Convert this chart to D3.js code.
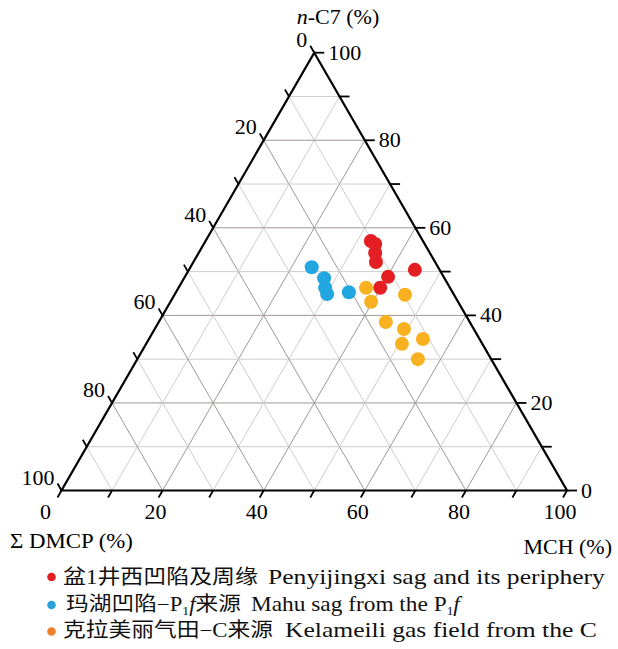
<!DOCTYPE html>
<html><head><meta charset="utf-8">
<script src="https://cdn.jsdelivr.net/npm/d3@7"></script>
<style>body{margin:0;background:#fff} svg{display:block;background:#fff}</style>
</head><body>
<svg id="chart" width="618" height="649"></svg>
<script>
// Ternary diagram: n-C7 (top), ΣDMCP (bottom-left), MCH (bottom-right), all in %
const tickValues = [0, 10, 20, 30, 40, 50, 60, 70, 80, 90, 100];
const majorLabels = ["0", "20", "40", "60", "80", "100"];

const penyiNC7  = [57.0, 56.3, 54.3, 52.2, 50.4, 48.8, 46.3];
const penyiDMCP = [10.3,  9.8, 10.8, 11.7,  4.9, 11.0, 13.8];
const penyiMCH  = [32.7, 33.9, 34.9, 36.1, 44.7, 40.2, 39.9];

const mahuNC7  = [51.0, 48.5, 46.3, 44.9, 45.3];
const mahuDMCP = [25.0, 23.8, 24.7, 25.0, 20.5];
const mahuMCH  = [24.0, 27.7, 29.0, 30.1, 34.2];

const kelaNC7  = [46.3, 43.1, 44.7, 38.5, 36.9, 34.6, 33.5, 30.0];
const kelaDMCP = [16.6, 17.2,  9.7, 16.6, 13.8, 11.2, 15.9, 14.5];
const kelaMCH  = [37.1, 39.7, 45.6, 44.9, 49.3, 54.2, 50.6, 55.5];

const series = [
  {name: "mahu",  nc7: mahuNC7,  dmcp: mahuDMCP,  mch: mahuMCH,  color: "#22a6e0"},
  {name: "kela",  nc7: kelaNC7,  dmcp: kelaDMCP,  mch: kelaMCH,  color: "#f9b11f"},
  {name: "penyi", nc7: penyiNC7, dmcp: penyiDMCP, mch: penyiMCH, color: "#e41f24"}
];

const svg = d3.select("#chart");
const serif = "'Liberation Serif', 'Times New Roman', serif";
const cjk = "'Noto Sans CJK SC', 'Liberation Serif', serif";

// horizontal position follows MCH + nC7/2, vertical follows nC7
const xScale = d3.scaleLinear().domain([0, 100]).range([61.5, 567]);
const yScale = d3.scaleLinear().domain([0, 100]).range([490.5, 52.7]);
function proj(nc7, dmcp, mch) {
  const s = nc7 + dmcp + mch;
  const c = nc7 / s * 100, m = mch / s * 100;
  return [xScale(m + c / 2), yScale(c)];
}
const TOP = proj(100, 0, 0), BL = proj(0, 100, 0), BR = proj(0, 0, 100);

// grid lines every 10 %
const grid = svg.append("g");
tickValues.filter(v => v > 0 && v < 100).forEach(v => {
  const col = v % 20 === 0 ? "#a09797" : "#d2cccc";
  const segs = [
    [proj(v, 100 - v, 0), proj(v, 0, 100 - v)],   // constant n-C7
    [proj(100 - v, v, 0), proj(0, v, 100 - v)],   // constant ΣDMCP
    [proj(100 - v, 0, v), proj(0, 100 - v, v)]    // constant MCH
  ];
  segs.forEach(([a, b]) => grid.append("line")
    .attr("x1", a[0]).attr("y1", a[1]).attr("x2", b[0]).attr("y2", b[1])
    .attr("stroke", col).attr("stroke-width", 1));
});

// triangle frame
svg.append("path")
  .attr("d", d3.line()([TOP, BR, BL, TOP]) + "Z")
  .attr("fill", "none").attr("stroke", "#000").attr("stroke-width", 2.2)
  .attr("stroke-linejoin", "miter");

const tickLen = 8;
const axes = svg.append("g").attr("font-family", serif).attr("font-size", 22).attr("fill", "#000");

// bottom axis: MCH 0 → 100 (left → right), ticks point down-left
tickValues.forEach(v => {
  const p = proj(0, 100 - v, v);
  axes.append("line").attr("x1", p[0]).attr("y1", p[1])
    .attr("x2", p[0] - 0.5 * tickLen).attr("y2", p[1] + 0.866 * tickLen)
    .attr("stroke", "#000").attr("stroke-width", 1.8);
  if (v % 20 === 0) {
    axes.append("text").attr("x", p[0] - (v === 0 ? 16 : 7)).attr("y", p[1] + 28)
      .attr("text-anchor", "middle").text(majorLabels[v / 20]);
  }
});

// left axis: ΣDMCP 0 (top) → 100 (bottom-left), ticks point up-left
tickValues.forEach(v => {
  const p = proj(100 - v, v, 0);
  axes.append("line").attr("x1", p[0]).attr("y1", p[1])
    .attr("x2", p[0] - 0.5 * tickLen).attr("y2", p[1] - 0.866 * tickLen)
    .attr("stroke", "#000").attr("stroke-width", 1.8);
  if (v % 20 === 0) {
    axes.append("text").attr("x", p[0] - 7).attr("y", p[1] - 6)
      .attr("text-anchor", "end").text(majorLabels[v / 20]);
  }
});

// right axis: n-C7 0 (bottom-right) → 100 (top), ticks point right
tickValues.forEach(v => {
  const p = proj(v, 0, 100 - v);
  axes.append("line").attr("x1", p[0]).attr("y1", p[1])
    .attr("x2", p[0] + tickLen + 2).attr("y2", p[1])
    .attr("stroke", "#000").attr("stroke-width", 1.8);
  if (v % 20 === 0) {
    axes.append("text").attr("x", p[0] + 14).attr("y", p[1] + 7)
      .attr("text-anchor", "start").text(majorLabels[v / 20]);
  }
});

// place a text so it spans [x0, x1] horizontally
function fitWidth(txt, x0, x1) {
  const w = txt.node().getComputedTextLength();
  txt.attr("x", 0).attr("transform", `translate(${x0},0) scale(${(x1 - x0) / w},1)`);
}

// axis titles
const t1 = axes.append("text").attr("x", 338).attr("y", 24).attr("text-anchor", "middle");
t1.append("tspan").attr("font-style", "italic").text("n");
t1.append("tspan").text("-C7 (%)");
const t2 = axes.append("text").attr("y", 548).text("Σ DMCP (%)");
fitWidth(t2, 10, 133);
axes.append("text").attr("x", 612).attr("y", 554).attr("text-anchor", "end").text("MCH (%)");

// data points
series.forEach(s => {
  const pts = s.nc7.map((c, i) => proj(c, s.dmcp[i], s.mch[i]));
  svg.append("g").selectAll("circle").data(pts).join("circle")
    .attr("cx", d => d[0]).attr("cy", d => d[1]).attr("r", 7)
    .attr("fill", s.color);
});

// legend
const legendRows = [
  {color: "#e41f24", y: 584, dotY: 577,
   cjkX: 63, cjkEnd: 258, latinX: 268, latinEnd: 605,
   cjk: [["盆"], ["1", "serif"], ["井西凹陷及周缘"]],
   latin: [["Penyijingxi sag and its periphery"]]},
  {color: "#2aa3dd", y: 611, dotY: 605,
   cjkX: 66, cjkEnd: 241, latinX: 251, latinEnd: 460,
   cjk: [["玛湖凹陷"], ["−P", "serif"], ["1", "sub"], ["f", "it"], ["来源"]],
   latin: [["Mahu sag from the P"], ["1", "sub"], ["f", "it"]]},
  {color: "#f07f2c", y: 637, dotY: 631.5,
   cjkX: 63, cjkEnd: 273, latinX: 285, latinEnd: 597,
   cjk: [["克拉美丽气田"], ["−C", "serif"], ["来源"]],
   latin: [["Kelameili gas field from the C"]]}
];
const legend = svg.append("g");
function addParts(txt, parts) {
  parts.forEach(([s, k]) => {
    const ts = txt.append("tspan").text(s);
    if (k === "serif") ts.attr("font-family", serif);
    else if (k === "sub") ts.attr("font-size", 12).attr("dy", 4).attr("font-family", serif);
    else if (k === "it") ts.attr("font-style", "italic").attr("dy", -4).attr("font-family", serif);
  });
}
legendRows.forEach(r => {
  legend.append("circle").attr("cx", 51.5).attr("cy", r.dotY).attr("r", 4.3).attr("fill", r.color);
  const a = legend.append("text").attr("x", 0).attr("y", r.y)
    .attr("font-family", cjk).attr("font-size", 20).attr("fill", "#111");
  addParts(a, r.cjk);
  fitWidth(a, r.cjkX, r.cjkEnd);
  const b = legend.append("text").attr("x", 0).attr("y", r.y)
    .attr("font-family", serif).attr("font-size", 21).attr("fill", "#111");
  addParts(b, r.latin);
  fitWidth(b, r.latinX, r.latinEnd);
});
</script>
</body></html>
